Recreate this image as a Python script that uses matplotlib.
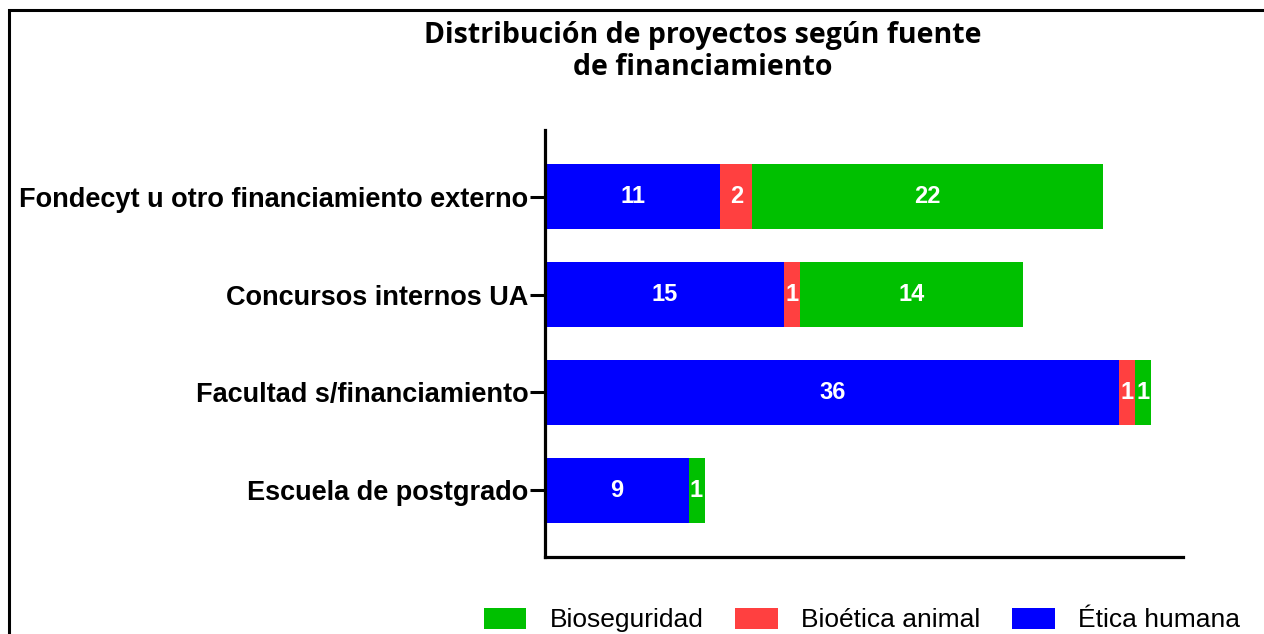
"""Stacked horizontal bars: projects by funding source."""

import matplotlib.pyplot as plt
from matplotlib.patches import Rectangle

categories = ['Escuela de postgrado', 'Facultad s/financiamiento',
              'Concursos internos UA',
              'Fondecyt u otro financiamiento externo']
etica_humana = [9, 36, 15, 11]
bioetica_animal = [0, 1, 1, 2]
bioseguridad = [1, 1, 14, 22]

series = [
    ('Ética humana', etica_humana, '#0000ff'),
    ('Bioética animal', bioetica_animal, '#ff4040'),
    ('Bioseguridad', bioseguridad, '#00c000'),
]

fig = plt.figure(figsize=(12.64, 6.34), dpi=100)
axes = fig.add_axes([0.4312, 0.1215, 0.5047, 0.6735])

# Stacked bars
pos = list(range(len(categories)))
left = [0] * len(categories)
handles = []
for label, values, color in series:
    bars = axes.barh(pos, values, left=left, height=0.66, color=color,
                     edgecolor='none', label=label)
    handles.append(bars)
    for bar, val in zip(bars, values):
        if val > 0:
            axes.text(bar.get_x() + bar.get_width() / 2,
                      bar.get_y() + bar.get_height() / 2, str(val),
                      ha='center', va='center', color='white',
                      fontsize=17, fontweight='bold',
                      family='Liberation Sans')
    left = [a + b for a, b in zip(left, values)]

# Appearance
axes.set_xlim(0, 40)
axes.set_ylim(-0.68, 3.68)
axes.set_yticks(pos)
axes.set_yticklabels(categories, fontsize=19.5, fontweight='bold',
                     family='Liberation Sans')
axes.set_xticks([])
for side in ('top', 'right'):
    axes.spines[side].set_visible(False)
for side in ('left', 'bottom'):
    axes.spines[side].set_linewidth(2.3)
axes.tick_params(axis='y', length=11, width=2.2, pad=1)

fig.text(0.556, 0.919, 'Distribución de proyectos según fuente\n'
         'de financiamiento', ha='center', va='center', fontsize=20.5,
         fontweight='bold', family='Open Sans', linespacing=1.15)

fig.legend(handles[::-1], [s[0] for s in series][::-1], loc='lower right',
           bbox_to_anchor=(1.0, -0.035), ncol=3, frameon=False,
           prop={'family': 'Liberation Sans', 'size': 19},
           handlelength=1.6, handleheight=0.85, columnspacing=1.2,
           handletextpad=0.9)

# Frame of the cropped figure
fig.patches.append(Rectangle((9 / 1264, -0.1), 1.2, 1 - 10 / 634 + 0.1,
                             transform=fig.transFigure, fill=False,
                             edgecolor='black', linewidth=2.2))

plt.savefig('out.png', dpi=100)
plt.close()
